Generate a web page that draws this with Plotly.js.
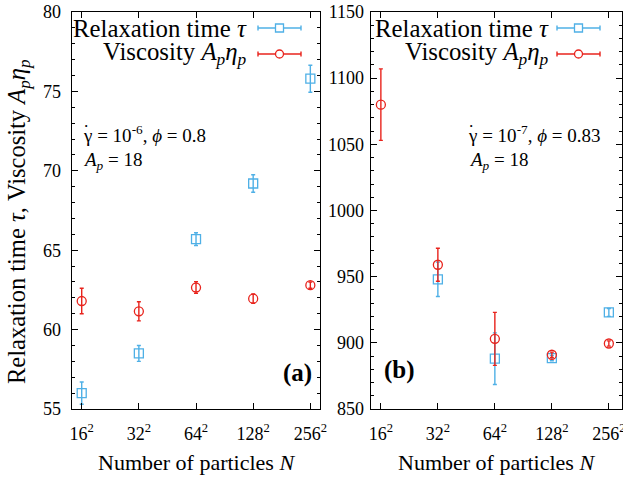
<!DOCTYPE html>
<html>
<head>
<meta charset="utf-8">
<script src="https://cdn.plot.ly/plotly-3.0.1.min.js"></script>
<style>html,body{margin:0;padding:0;background:#fff;}#chart{width:623px;height:477px;}</style>
</head>
<body>
<div id="chart"></div>
<script>
// ---- data ----
const N = [256, 1024, 4096, 16384, 65536];
const tickText = ['16<sup>2</sup>', '32<sup>2</sup>', '64<sup>2</sup>', '128<sup>2</sup>', '256<sup>2</sup>'];
// panel (a): shear rate 1e-6, phi = 0.8
const tauA = [56.0, 58.5, 65.7, 69.2, 75.8];
const tauAErr = [0.7, 0.5, 0.4, 0.55, 0.85];
const etaA = [61.8, 61.15, 62.65, 61.95, 62.8];
const etaAErr = [0.8, 0.6, 0.37, 0.3, 0.2];
// panel (b): shear rate 1e-7, phi = 0.83
const tauB = [null, 948, 888, 888.5, 923];
const tauBErr = [0, 13, 19.5, 2, 3];
const etaB = [1080, 959, 903, 891, 899.5];
const etaBErr = [27, 12.5, 20, 2, 2];

const BLUE = '#4fb0e6';
const RED = '#e8231c';
const FONT = 'Liberation Serif';
const W = 623, H = 477;
const px = v => v / W;
const py = v => 1 - v / H;

function tr(y, err, xa, ya, color, symbol, size) {
  return {
    x: N, y: y, xaxis: xa, yaxis: ya, type: 'scatter', mode: 'markers',
    marker: {symbol: symbol, size: size, color: color, line: {color: color, width: 1.3}},
    error_y: {type: 'data', array: err, visible: true, color: color, thickness: 1.4, width: 2},
    showlegend: false, hoverinfo: 'skip'
  };
}

const data = [
  tr(tauA, tauAErr, 'x', 'y', BLUE, 'square-open', 9),
  tr(etaA, etaAErr, 'x', 'y', RED, 'circle-open', 9),
  tr(tauB, tauBErr, 'x2', 'y2', BLUE, 'square-open', 9),
  tr(etaB, etaBErr, 'x2', 'y2', RED, 'circle-open', 9)
];

const xCommon = {
  type: 'log', tickvals: N, ticktext: tickText,
  showline: true, linecolor: '#000', linewidth: 1.3, mirror: 'allticks',
  ticks: 'inside', ticklen: 6, tickwidth: 1, tickcolor: '#000',
  showgrid: false, zeroline: false, fixedrange: true, ticklabeloverflow: 'allow',
  tickfont: {family: FONT, size: 18, color: '#000'}, ticklabelstandoff: 8
};
const yCommon = {
  showline: true, linecolor: '#000', linewidth: 1.3, mirror: 'allticks',
  ticks: 'inside', ticklen: 6, tickwidth: 1, tickcolor: '#000',
  showgrid: false, zeroline: false, fixedrange: true,
  tickfont: {family: FONT, size: 18, color: '#000'},
  domain: [py(409), py(12)]
};

const layout = {
  width: W, height: H,
  margin: {l: 0, r: 0, t: 0, b: 0},
  paper_bgcolor: '#fff', plot_bgcolor: '#fff',
  showlegend: false,
  font: {family: FONT, color: '#000'},
  xaxis: Object.assign({}, xCommon, {domain: [px(72), px(319.5)], range: [2.306, 4.913], anchor: 'y'}),
  xaxis2: Object.assign({}, xCommon, {domain: [px(371), px(621.5)], range: [2.304, 4.95], anchor: 'y2'}),
  yaxis: Object.assign({}, yCommon, {range: [55, 80], dtick: 5, anchor: 'x', ticklabelstandoff: 6,
    minor: {dtick: 1, ticks: 'inside', ticklen: 3, tickcolor: '#000', showgrid: false}}),
  yaxis2: Object.assign({}, yCommon, {range: [850, 1150], dtick: 50, anchor: 'x2', ticklabelstandoff: 2,
    minor: {dtick: 10, ticks: 'inside', ticklen: 3, tickcolor: '#000', showgrid: false}}),
  annotations: [],
  shapes: []
};

const A = layout.annotations, S = layout.shapes;
function txt(x, y, text, size, xanchor, extra) {
  A.push(Object.assign({xref: 'paper', yref: 'paper', x: px(x), y: py(y), text: text, showarrow: false,
    xanchor: xanchor || 'center', yanchor: 'middle', font: {family: FONT, size: size, color: '#000'}}, extra || {}));
}
// legends (text on the left, sample on the right)
function legendRow(textRight, x0, x1, y, label, color, kind) {
  txt(textRight, y, label, 24.8, 'right');
  S.push({type: 'line', xref: 'paper', yref: 'paper', x0: px(x0), x1: px(x1), y0: py(y), y1: py(y), line: {color: color, width: 1.4}});
  S.push({type: 'line', xref: 'paper', yref: 'paper', x0: px(x0), x1: px(x0), y0: py(y - 2.5), y1: py(y + 2.5), line: {color: color, width: 1.4}});
  S.push({type: 'line', xref: 'paper', yref: 'paper', x0: px(x1), x1: px(x1), y0: py(y - 2.5), y1: py(y + 2.5), line: {color: color, width: 1.4}});
  const xm = (x0 + x1) / 2, r = 4;
  S.push({type: kind, xref: 'paper', yref: 'paper', x0: px(xm - r), x1: px(xm + r), y0: py(y - r), y1: py(y + r),
    line: {color: color, width: 1.3}, fillcolor: '#fff'});
}
const labTau = 'Relaxation time <i>τ</i>';
const labEta = 'Viscosity <i>A<sub>p</sub>η<sub>p</sub></i>';
legendRow(249, 258, 301, 28, labTau, BLUE, 'rect');
legendRow(249, 258, 301, 54, labEta, RED, 'circle');
legendRow(551, 557, 600, 28, labTau, BLUE, 'rect');
legendRow(551, 557, 600, 54, labEta, RED, 'circle');

// parameter texts (gamma with a dot above for the shear rate)
function rateText(x, y, exp, phi) {
  txt(x, y, 'γ = 10<sup>' + exp + '</sup>, <i>ϕ</i> = ' + phi, 19, 'left');
  txt(x + 4.5, y - 2, '˙', 19, 'center');
}
rateText(81, 134, '-6', '0.8');
txt(81, 161, '<i>A<sub>p</sub></i> = 18', 19, 'left');
rateText(466, 134, '-7', '0.83');
txt(467, 161, '<i>A<sub>p</sub></i> = 18', 19, 'left');

// panel labels
txt(314, 373, '<b>(a)</b>', 25, 'right');
txt(382, 370, '<b>(b)</b>', 25, 'left');

// axis titles
txt(196, 462, 'Number of particles <i>N</i>', 22, 'center');
txt(496, 462, 'Number of particles <i>N</i>', 22, 'center');
txt(18, 222, 'Relaxation time <i>τ</i>, Viscosity <i>A<sub>p</sub>η<sub>p</sub></i>', 24.5, 'center', {textangle: -90});

Plotly.newPlot('chart', data, layout, {staticPlot: true, displayModeBar: false});
</script>
</body>
</html>
